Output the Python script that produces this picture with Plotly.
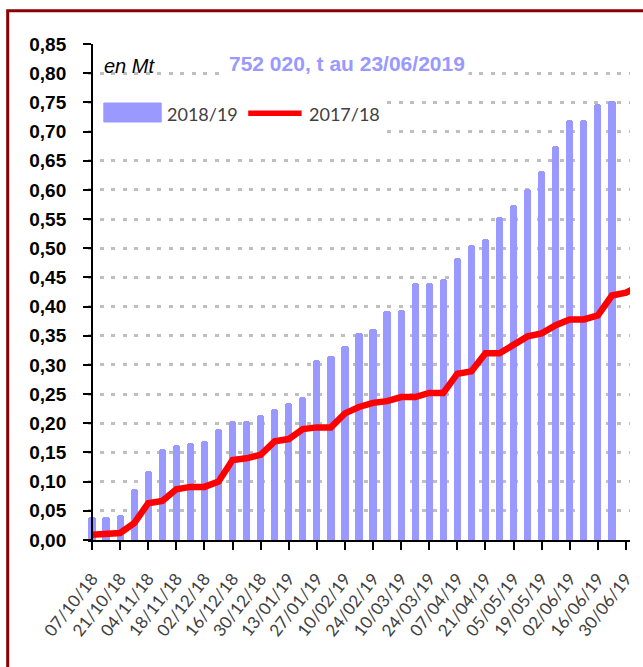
import datetime as dt
import plotly.graph_objects as go

# ---------------- data ----------------
start_2018_19 = "2018-10-07"
bars_2018_19 = [0.040, 0.040, 0.043, 0.088, 0.119, 0.156, 0.163, 0.167, 0.170, 0.190,
                0.204, 0.204, 0.214, 0.225, 0.234, 0.245, 0.309, 0.316, 0.333, 0.354,
                0.361, 0.392, 0.395, 0.440, 0.440, 0.447, 0.484, 0.505, 0.515, 0.553,
                0.574, 0.601, 0.632, 0.676, 0.720, 0.720, 0.748, 0.752]
line_2017_18 = [0.009, 0.011, 0.012, 0.029, 0.063, 0.067, 0.087, 0.091, 0.091, 0.100,
                0.137, 0.140, 0.146, 0.169, 0.173, 0.190, 0.193, 0.193, 0.217, 0.228,
                0.235, 0.238, 0.245, 0.245, 0.252, 0.252, 0.285, 0.289, 0.320, 0.320,
                0.333, 0.349, 0.354, 0.368, 0.378, 0.378, 0.385, 0.419, 0.424, 0.436]
series_names = ["2018/19", "2017/18"]
title_text = "752 020, t au 23/06/2019"
unit_text = "en Mt"
axis_start = "2018-10-07"
axis_end = "2019-06-30"

d0 = dt.date.fromisoformat(start_2018_19)
bar_dates = [d0 + dt.timedelta(days=7 * i) for i in range(len(bars_2018_19))]
line_dates = [d0 + dt.timedelta(days=7 * i) for i in range(len(line_2017_18))]

# ---------------- layout geometry ----------------
W, H = 643, 667
L, R, T, B = 88, 7, 44, 127
PW, PH = W - L - R, H - T - B
pad_days = 2
a0 = dt.date.fromisoformat(axis_start)
a1 = dt.date.fromisoformat(axis_end)
x_lo = a0 - dt.timedelta(days=pad_days)
x_hi = a1 + dt.timedelta(days=pad_days)
total_days = (x_hi - x_lo).days
yaxis_pos = pad_days / total_days


def px(x):
    return (x - L) / PW


def py(y):
    return (H - B - y) / PH


BAR_COLOR = "#9999FF"
LINE_COLOR = "#FF0000"
DAY_MS = 86400000
LIGHT_FONT = "Lato, Open Sans, sans-serif"

fig = go.Figure()
fig.add_trace(go.Bar(
    x=bar_dates, y=bars_2018_19, name=series_names[0],
    marker=dict(color=BAR_COLOR, cornerradius=3, line=dict(width=0)),
    width=3.6 * DAY_MS, showlegend=False,
))
fig.add_trace(go.Scatter(
    x=line_dates, y=line_2017_18, name=series_names[1], mode="lines",
    line=dict(color=LINE_COLOR, width=6.5), showlegend=False,
))

shapes = [
    # outer dark red frame
    dict(type="rect", xref="paper", yref="paper", x0=px(6.8), x1=px(700), y0=py(720), y1=py(10.7),
         line=dict(color="#8B0000", width=3), fillcolor="rgba(0,0,0,0)", layer="above"),
    # legend background
    dict(type="rect", xref="paper", yref="paper", x0=px(93.5), x1=px(390), y0=py(145), y1=py(86),
         line=dict(width=0), fillcolor="white", layer="above"),
    # legend bar symbol
    dict(type="rect", xref="paper", yref="paper", x0=px(104), x1=px(162), y0=py(122), y1=py(103),
         line=dict(color=BAR_COLOR, width=1), fillcolor=BAR_COLOR, layer="above"),
    # legend line symbol
    dict(type="line", xref="paper", yref="paper", x0=px(250), x1=px(304), y0=py(113.3), y1=py(113.3),
         line=dict(color=LINE_COLOR, width=5.5), layer="above"),
]

legend_font = dict(family=LIGHT_FONT, size=18, color="#404040", weight=400)
annotations = [
    dict(text=title_text, xref="paper", yref="paper", x=px(350), y=py(63), xanchor="center",
         yanchor="middle", showarrow=False, bgcolor="white", borderpad=3,
         font=dict(family="Liberation Sans, Arial, sans-serif", size=21, color=BAR_COLOR, weight="bold")),
    dict(text="<i>" + unit_text + "</i>", xref="paper", yref="paper", x=px(102), y=py(66),
         xanchor="left", yanchor="middle", showarrow=False,
         font=dict(family="Liberation Sans, Arial, sans-serif", size=20, color="black")),
    dict(text=series_names[0], xref="paper", yref="paper", x=px(166), y=py(114),
         xanchor="left", yanchor="middle", showarrow=False, font=legend_font),
    dict(text=series_names[1], xref="paper", yref="paper", x=px(309), y=py(114),
         xanchor="left", yanchor="middle", showarrow=False, font=legend_font),
]

fig.update_layout(
    width=W, height=H,
    margin=dict(l=L, r=R, t=T, b=B, pad=0),
    paper_bgcolor="white", plot_bgcolor="white",
    separators=", ",
    bargap=0,
    shapes=shapes, annotations=annotations,
    xaxis=dict(
        type="date", range=[x_lo.isoformat(), x_hi.isoformat()],
        tick0=axis_start, dtick=14 * DAY_MS, tickformat="%d/%m/%y", tickangle=-52,
        ticks="outside", ticklen=8, tickwidth=2, tickcolor="black",
        showline=True, linecolor="black", linewidth=2, showgrid=False, zeroline=False,
        tickfont=dict(family=LIGHT_FONT, size=17, color="#404040", weight=400),
        ticklabelstandoff=12,
    ),
    yaxis=dict(
        anchor="free", position=yaxis_pos,
        range=[0, 0.85], dtick=0.05, tick0=0, tickformat=".2f",
        ticks="outside", ticklen=8, tickwidth=2, tickcolor="black",
        showline=True, linecolor="black", linewidth=2,
        showgrid=True, gridcolor="#BFBFBF", gridwidth=2.5, griddash="4px,7.5px",
        zeroline=False,
        tickfont=dict(family="Liberation Sans, Arial, sans-serif", size=19, color="black", weight="bold"),
        ticklabelstandoff=13,
    ),
)

fig.write_html("out.html", config={"displayModeBar": False},
               post_script="document.body.style.margin='0';")
